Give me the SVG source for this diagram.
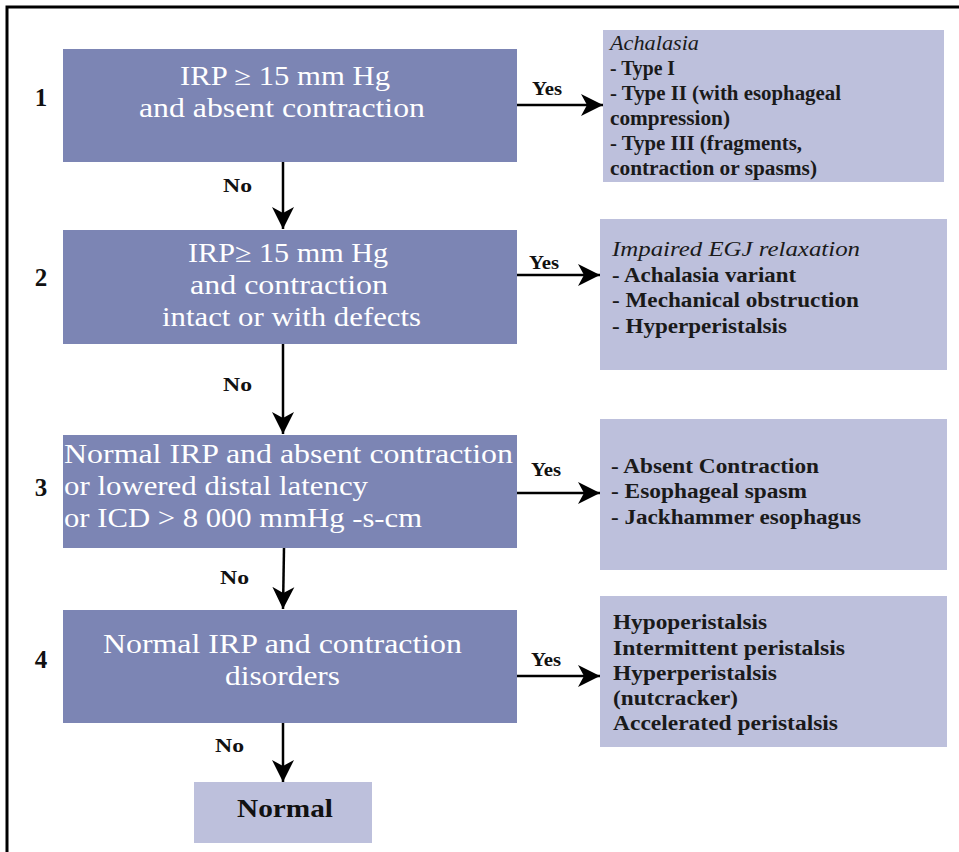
<svg xmlns="http://www.w3.org/2000/svg" width="959" height="852" viewBox="0 0 959 852">
<style>
text{font-family:"Liberation Serif","Times New Roman",serif}
.q{fill:#7c85b4}
.r{fill:#bdc0dc}
.qt{font-size:26.5px;fill:#ffffff}
.rt{font-size:20px;font-weight:bold;fill:#1a1a1a}
.it{font-style:italic;font-weight:normal}
.lb{font-size:18px;font-weight:bold;fill:#111}
.num{font-size:25px;font-weight:bold;fill:#111}
.ln{stroke:#000;stroke-width:2.5;fill:none}
</style>
<defs>
<marker id="ah" markerUnits="userSpaceOnUse" markerWidth="24" markerHeight="26" refX="22" refY="12" orient="auto" viewBox="0 0 24 24">
<path d="M22,12 L0,1 L6,12 L0,23 Z" fill="#000"/>
</marker>
</defs>
<rect width="959" height="852" fill="#fff"/>
<g id="frame">
<path d="M7,852 V7 H959" stroke="#000" stroke-width="3" fill="none"/>
</g>
<g id="q1">
<rect class="q" x="63" y="49" width="454" height="113"/>
<text class="qt" x="180" y="85" textLength="210" lengthAdjust="spacingAndGlyphs">IRP ≥ 15 mm Hg</text>
<text class="qt" x="139" y="117" textLength="286" lengthAdjust="spacingAndGlyphs">and absent contraction</text>
<text class="num" x="41" y="106" text-anchor="middle">1</text>
</g>
<g id="q2">
<rect class="q" x="63" y="230" width="454" height="114"/>
<text class="qt" x="188" y="262" textLength="200" lengthAdjust="spacingAndGlyphs">IRP≥ 15 mm Hg</text>
<text class="qt" x="190" y="294" textLength="198" lengthAdjust="spacingAndGlyphs">and contraction</text>
<text class="qt" x="162" y="326" textLength="259" lengthAdjust="spacingAndGlyphs">intact or with defects</text>
<text class="num" x="41" y="286" text-anchor="middle">2</text>
</g>
<g id="q3">
<rect class="q" x="63" y="435" width="454" height="113"/>
<text class="qt" x="64" y="463" textLength="449" lengthAdjust="spacingAndGlyphs">Normal IRP and absent contraction</text>
<text class="qt" x="64" y="495" textLength="304" lengthAdjust="spacingAndGlyphs">or lowered distal latency</text>
<text class="qt" x="64" y="527" textLength="358" lengthAdjust="spacingAndGlyphs">or ICD &gt; 8 000 mmHg -s-cm</text>
<text class="num" x="41" y="496" text-anchor="middle">3</text>
</g>
<g id="q4">
<rect class="q" x="63" y="610" width="454" height="113"/>
<text class="qt" x="103" y="653" textLength="359" lengthAdjust="spacingAndGlyphs">Normal IRP and contraction</text>
<text class="qt" x="225" y="685" textLength="115" lengthAdjust="spacingAndGlyphs">disorders</text>
<text class="num" x="41" y="668" text-anchor="middle">4</text>
</g>
<g id="normal">
<rect class="r" x="194" y="782" width="178" height="61"/>
<text x="237" y="817" textLength="96" lengthAdjust="spacingAndGlyphs" font-size="26" font-weight="bold" fill="#111">Normal</text>
</g>
<g id="r1">
<rect class="r" x="603" y="30" width="341" height="152"/>
<text class="rt it" x="610" y="50" textLength="89" lengthAdjust="spacingAndGlyphs">Achalasia</text>
<text class="rt" x="610" y="75" textLength="65" lengthAdjust="spacingAndGlyphs">- Type I</text>
<text class="rt" x="610" y="100" textLength="231" lengthAdjust="spacingAndGlyphs">- Type II (with esophageal</text>
<text class="rt" x="610" y="125" textLength="120" lengthAdjust="spacingAndGlyphs">compression)</text>
<text class="rt" x="610" y="150" textLength="192" lengthAdjust="spacingAndGlyphs">- Type III (fragments,</text>
<text class="rt" x="610" y="175" textLength="207" lengthAdjust="spacingAndGlyphs">contraction or spasms)</text>
</g>
<g id="r2">
<rect class="r" x="600" y="219" width="347" height="151"/>
<text class="rt it" x="612" y="256" textLength="248" lengthAdjust="spacingAndGlyphs">Impaired EGJ relaxation</text>
<text class="rt" x="612" y="282" textLength="184" lengthAdjust="spacingAndGlyphs">- Achalasia variant</text>
<text class="rt" x="612" y="307" textLength="247" lengthAdjust="spacingAndGlyphs">- Mechanical obstruction</text>
<text class="rt" x="612" y="333" textLength="175" lengthAdjust="spacingAndGlyphs">- Hyperperistalsis</text>
</g>
<g id="r3">
<rect class="r" x="600" y="419" width="347" height="151"/>
<text class="rt" x="611" y="473" textLength="208" lengthAdjust="spacingAndGlyphs">- Absent Contraction</text>
<text class="rt" x="611" y="498" textLength="196" lengthAdjust="spacingAndGlyphs">- Esophageal spasm</text>
<text class="rt" x="611" y="524" textLength="250" lengthAdjust="spacingAndGlyphs">- Jackhammer esophagus</text>
</g>
<g id="r4">
<rect class="r" x="600" y="596" width="347" height="151"/>
<text class="rt" x="613" y="629" textLength="154" lengthAdjust="spacingAndGlyphs">Hypoperistalsis</text>
<text class="rt" x="613" y="655" textLength="232" lengthAdjust="spacingAndGlyphs">Intermittent peristalsis</text>
<text class="rt" x="613" y="680" textLength="164" lengthAdjust="spacingAndGlyphs">Hyperperistalsis</text>
<text class="rt" x="613" y="705" textLength="125" lengthAdjust="spacingAndGlyphs">(nutcracker)</text>
<text class="rt" x="613" y="730" textLength="225" lengthAdjust="spacingAndGlyphs">Accelerated peristalsis</text>
</g>
<g id="connectors">
<line class="ln" x1="283" y1="162" x2="283" y2="229" marker-end="url(#ah)"/>
<line class="ln" x1="283" y1="344" x2="283" y2="434" marker-end="url(#ah)"/>
<line class="ln" x1="284" y1="548" x2="283" y2="609" marker-end="url(#ah)"/>
<line class="ln" x1="283" y1="723" x2="283" y2="782" marker-end="url(#ah)"/>
<line class="ln" x1="517" y1="105" x2="603" y2="105" marker-end="url(#ah)"/>
<line class="ln" x1="517" y1="275" x2="600" y2="275" marker-end="url(#ah)"/>
<line class="ln" x1="517" y1="493" x2="600" y2="493" marker-end="url(#ah)"/>
<line class="ln" x1="517" y1="676" x2="600" y2="676" marker-end="url(#ah)"/>
<text class="lb" x="532" y="95" textLength="30" lengthAdjust="spacingAndGlyphs">Yes</text>
<text class="lb" x="529" y="269" textLength="30" lengthAdjust="spacingAndGlyphs">Yes</text>
<text class="lb" x="531" y="476" textLength="30" lengthAdjust="spacingAndGlyphs">Yes</text>
<text class="lb" x="531" y="666" textLength="30" lengthAdjust="spacingAndGlyphs">Yes</text>
<text class="lb" x="223" y="192" textLength="29" lengthAdjust="spacingAndGlyphs">No</text>
<text class="lb" x="223" y="391" textLength="29" lengthAdjust="spacingAndGlyphs">No</text>
<text class="lb" x="220" y="584" textLength="29" lengthAdjust="spacingAndGlyphs">No</text>
<text class="lb" x="215" y="752" textLength="29" lengthAdjust="spacingAndGlyphs">No</text>
</g>
</svg>
